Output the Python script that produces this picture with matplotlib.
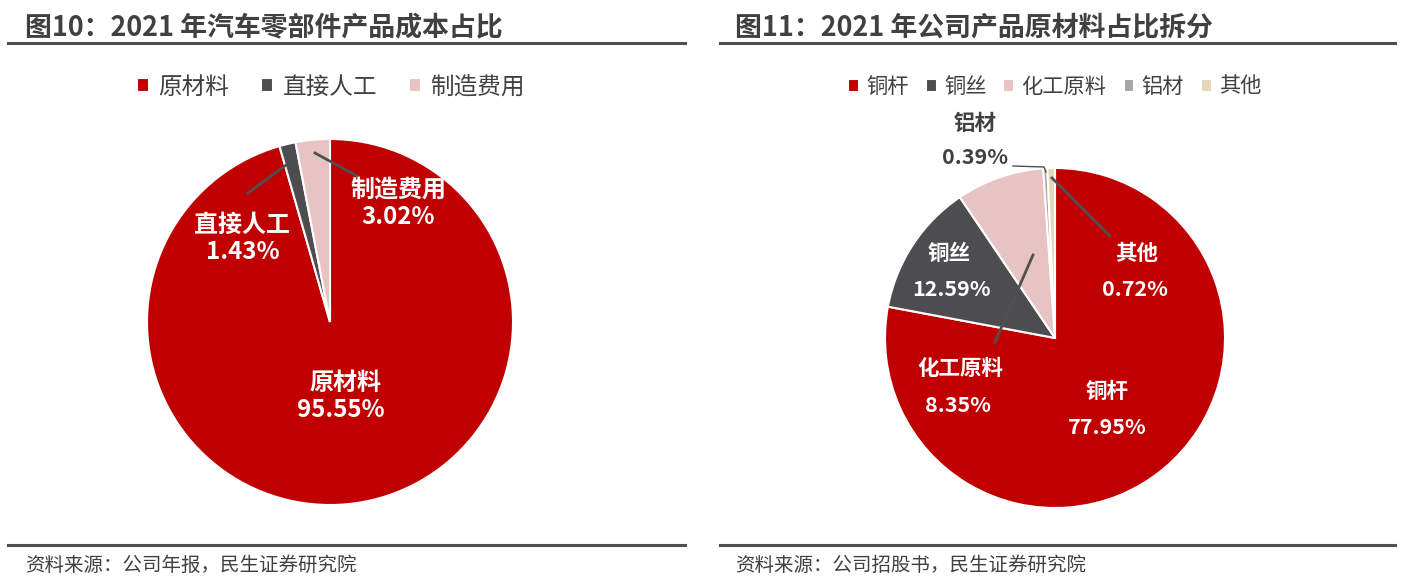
import matplotlib.pyplot as plt
from matplotlib.lines import Line2D

plt.rcParams['font.family'] = ['Noto Sans CJK SC', 'DejaVu Sans']

W, H = 1407, 586

# left chart: 2021 cost split
cost_labels = ["原材料", "直接人工", "制造费用"]
cost_values = [95.55, 1.43, 3.02]
cost_colors = ["#C00000", "#4D4D4F", "#E8C3C3"]

# right chart: raw material split
mat_labels = ["铜杆", "铜丝", "化工原料", "铝材", "其他"]
mat_values = [77.95, 12.59, 8.35, 0.39, 0.72]
mat_colors = ["#C00000", "#4D4D4F", "#E8C3C3", "#A6A6A6", "#E6D5B8"]

TXT = "#404040"


def px(x, y):
    return (x / W, 1 - y / H)


def pie_axes(fig, cx, cy, r):
    ax = fig.add_axes([(cx - r) / W, (H - cy - r) / H, 2 * r / W, 2 * r / H])
    return ax


def label(fig, name, val, p1, p2, size, color="white"):
    kw = dict(fontsize=size, fontweight="bold", color=color, ha="center", va="center")
    fig.text(*px(*p1), name, **kw)
    fig.text(*px(*p2), f"{val:.2f}%", **kw)


fig = plt.figure(figsize=(W / 100, H / 100), dpi=100)

# headers and footers
for x0, x1, tx, title, src in [
    (8, 685, 25, "图10：2021 年汽车零部件产品成本占比", "资料来源：公司年报，民生证券研究院"),
    (720, 1395, 735, "图11：2021 年公司产品原材料占比拆分", "资料来源：公司招股书，民生证券研究院"),
]:
    fig.text(*px(tx, 27), title, fontsize=19.4, fontweight="bold", color=TXT, va="center", ha="left")
    fig.add_artist(Line2D([x0 / W, x1 / W], [1 - 43 / H] * 2, color="#505050", lw=2.2))
    fig.add_artist(Line2D([x0 / W, x1 / W], [1 - 545 / H] * 2, color="#505050", lw=2.2))
    fig.text(*px(tx, 565), src, fontsize=14, color=TXT, va="center", ha="left")

# left pie
ax1 = pie_axes(fig, 330, 322, 183)
w1, _ = ax1.pie(cost_values, colors=cost_colors, startangle=90, counterclock=False,
                wedgeprops=dict(edgecolor="white", linewidth=1.5))
ax1.set_xlim(-1, 1)
ax1.set_ylim(-1, 1)
ax1.set_aspect("equal")
ax1.axis("off")

label(fig, cost_labels[0], cost_values[0], (345, 383), (341, 410), 17.3)
label(fig, cost_labels[1], cost_values[1], (242, 225), (243, 252), 17.3)
label(fig, cost_labels[2], cost_values[2], (398, 190), (398, 217), 17.3)
for (xa, ya), (xb, yb) in [((248, 193), (286, 165)), ((315, 153), (357, 176))]:
    fig.add_artist(Line2D([xa / W, xb / W], [1 - ya / H, 1 - yb / H], color="#505050", lw=2))

fig.legend(w1, cost_labels, loc="center", bbox_to_anchor=px(331, 87), ncol=3, frameon=False,
           fontsize=17, handlelength=0.5, handleheight=0.5, handletextpad=0.4,
           columnspacing=1.35, labelcolor=TXT)

# right pie
ax2 = pie_axes(fig, 1055, 338, 170)
w2, _ = ax2.pie(mat_values, colors=mat_colors, startangle=90, counterclock=False,
                wedgeprops=dict(edgecolor="white", linewidth=1.5))
ax2.set_xlim(-1, 1)
ax2.set_ylim(-1, 1)
ax2.set_aspect("equal")
ax2.axis("off")

label(fig, mat_labels[0], mat_values[0], (1107, 392), (1107, 428), 15.5)
label(fig, mat_labels[1], mat_values[1], (949, 254), (952, 289), 15.5)
label(fig, mat_labels[2], mat_values[2], (960, 368), (958, 405), 15.5)
label(fig, mat_labels[4], mat_values[4], (1137, 253), (1135, 289), 15.5)
label(fig, mat_labels[3], mat_values[3], (975, 123), (975, 158), 15.5, color=TXT)
for (xa, ya), (xb, yb) in [((1033, 255), (995, 342)), ((1052, 178), (1110, 236))]:
    fig.add_artist(Line2D([xa / W, xb / W], [1 - ya / H, 1 - yb / H], color="#505050", lw=2))
fig.add_artist(Line2D([1013 / W, 1044 / W, 1046 / W], [1 - 166 / H, 1 - 167 / H, 1 - 172 / H],
                      color="#505050", lw=1))

fig.legend(w2, mat_labels, loc="center", bbox_to_anchor=px(1055, 87), ncol=5, frameon=False,
           fontsize=15.3, handlelength=0.5, handleheight=0.5, handletextpad=0.35,
           columnspacing=0.8, labelcolor=TXT)

fig.savefig("out.png", dpi=100)
